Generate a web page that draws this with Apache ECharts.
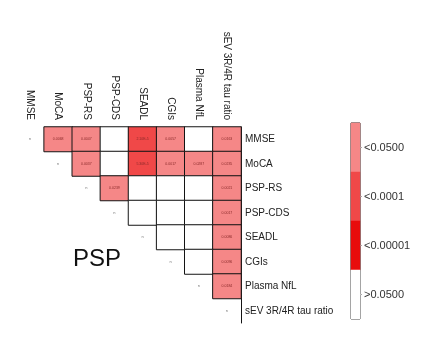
<!DOCTYPE html>
<html>
<head>
<meta charset="utf-8">
<script src="https://cdn.jsdelivr.net/npm/echarts@6/dist/echarts.min.js"></script>
<style>
  html, body { margin: 0; padding: 0; background: #fff; }
  #chart { width: 425px; height: 342px; }
</style>
</head>
<body>
<div id="chart"></div>
<script>
// Clinical / biomarker variables (same order on both axes)
const variables = ['MMSE', 'MoCA', 'PSP-RS', 'PSP-CDS', 'SEADL', 'CGIs', 'Plasma NfL', 'sEV 3R/4R tau ratio'];

// Upper-triangle p-values: row i holds pairs (i, i+1 .. n-1)
const pMMSE   = [0.0068, 0.0047, 0.1820, 0.000021, 0.0057, 0.3120, 0.0163];
const pMoCA   = [0.0037, 0.0950, 0.000053, 0.0017, 0.0287, 0.0235];
const pPSPRS  = [0.0239, 0.0710, 0.1480, 0.4410, 0.0021];
const pPSPCDS = [0.2050, 0.0830, 0.5270, 0.0017];
const pSEADL  = [0.0920, 0.2680, 0.0086];
const pCGIs   = [0.3740, 0.0096];
const pNfL    = [0.0184];
const pRows = [pMMSE, pMoCA, pPSPRS, pPSPCDS, pSEADL, pCGIs, pNfL, []];

// Diagonal marker text
const diagMark = 'n';

// Significance bins for the colour key
const legendLabels = ['<0.0500', '<0.0001', '<0.00001', '>0.0500'];
const legendColors = ['#f58787', '#f04848', '#e80c0c', '#ffffff'];

function binIndex(p) {
  if (p < 0.00001) return 2;
  if (p < 0.0001) return 1;
  if (p < 0.05) return 0;
  return 3;
}
function fmtP(p) {
  return p < 0.0001 ? p.toExponential(2).toUpperCase() : p.toFixed(4);
}

const cells = [];
variables.forEach((_, i) => {
  // diagonal
  cells.push({
    value: [i, i, 1],
    itemStyle: { color: 'rgba(0,0,0,0)', borderWidth: 0 },
    label: { show: true, formatter: diagMark, color: '#777', fontSize: 4 }
  });
  pRows[i].forEach((p, k) => {
    const j = i + 1 + k;
    const b = binIndex(p);
    cells.push({
      value: [j, i, p],
      itemStyle: { color: legendColors[b], borderColor: '#141414', borderWidth: 1 },
      label: { show: b !== 3, formatter: fmtP(p), color: '#8a2a2a', fontSize: 3.5 }
    });
  });
});

const legendCells = legendLabels.map((_, k) => ({
  value: [0, k, k],
  itemStyle: { color: legendColors[k] }
}));

const font = 'Liberation Sans, Arial, Helvetica, sans-serif';

const chart = echarts.init(document.getElementById('chart'), null, { renderer: 'canvas' });
chart.setOption({
  backgroundColor: '#fff',
  animation: false,
  textStyle: { fontFamily: font },
  grid: [
    { left: 16, top: 127, width: 225, height: 196 },
    { left: 351, top: 123, width: 9, height: 196, show: true, borderColor: '#111', borderWidth: 1, backgroundColor: 'transparent' }
  ],
  xAxis: [
    {
      gridIndex: 0, type: 'category', data: variables, position: 'top',
      axisLine: { show: false }, axisTick: { show: false }, splitLine: { show: false },
      axisLabel: { rotate: 90, margin: 7, fontSize: 10, color: '#222', fontFamily: font, interval: 0 }
    },
    {
      gridIndex: 1, type: 'category', data: [''],
      axisLine: { show: false }, axisTick: { show: false }, axisLabel: { show: false }
    }
  ],
  yAxis: [
    {
      gridIndex: 0, type: 'category', data: variables, position: 'right', inverse: true,
      axisLine: { show: true, lineStyle: { color: '#141414', width: 1 } },
      axisTick: { show: false }, splitLine: { show: false },
      axisLabel: { margin: 4, fontSize: 10, color: '#222', fontFamily: font, interval: 0 }
    },
    {
      gridIndex: 1, type: 'category', data: legendLabels, position: 'right', inverse: true,
      axisLine: { show: false },
      axisTick: { show: true, alignWithLabel: true, length: 2, lineStyle: { color: '#aaa' } },
      axisLabel: { margin: 4, fontSize: 11, color: '#333', fontFamily: font }
    }
  ],
  series: [
    {
      type: 'heatmap', xAxisIndex: 0, yAxisIndex: 0, data: cells,
      label: { show: true }, emphasis: { disabled: true }
    },
    {
      type: 'heatmap', xAxisIndex: 1, yAxisIndex: 1, data: legendCells,
      label: { show: false }, emphasis: { disabled: true }
    }
  ],
  graphic: [
    {
      type: 'text', left: 73, top: 247,
      style: { text: 'PSP', fontSize: 24, fontFamily: font, fill: '#111' }
    }
  ]
});
</script>
</body>
</html>
